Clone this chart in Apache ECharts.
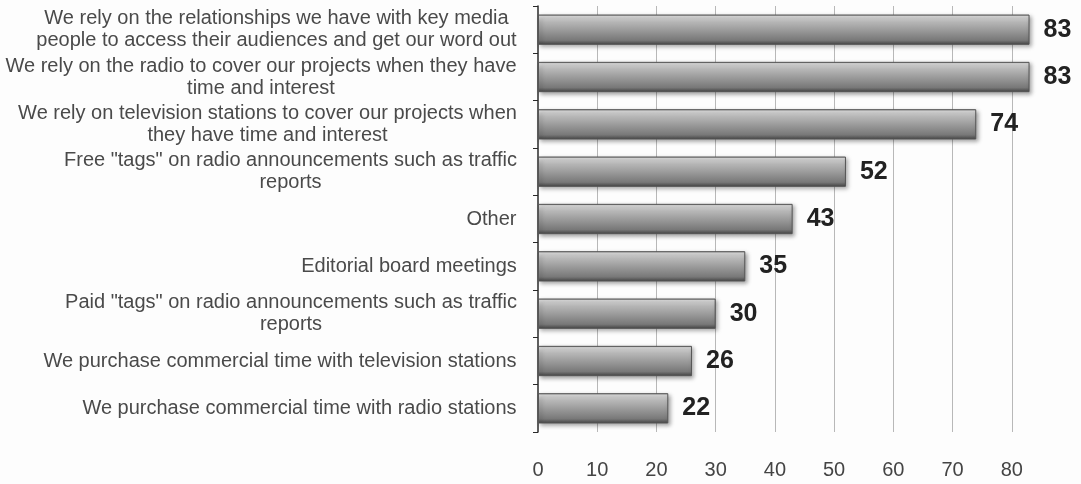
<!DOCTYPE html>
<html>
<head>
<meta charset="utf-8">
<script src="https://cdn.jsdelivr.net/npm/echarts@6/dist/echarts.min.js"></script>
<style>
  html, body { margin: 0; padding: 0; background: #fdfdfd; }
  #chart { width: 1081px; height: 484px; }
</style>
</head>
<body>
<div id="chart"></div>
<script>
// survey answers, top to bottom, line breaks as in the original
var categories = [
  'We rely on the relationships we have with key media\npeople to access their audiences and get our word out',
  'We rely on the radio to cover our projects when they have\ntime and interest',
  'We rely on television stations to cover our projects when\nthey have time and interest',
  'Free "tags" on radio announcements such as traffic\nreports',
  'Other',
  'Editorial board meetings',
  'Paid "tags" on radio announcements such as traffic\nreports',
  'We purchase commercial time with television stations',
  'We purchase commercial time with radio stations'
];
var values = [83, 83, 74, 52, 43, 35, 30, 26, 22];

var labelFont = '"Liberation Sans", Arial, sans-serif';
var labelSize = 20;

// each multi-line label is centred line by line, block right-aligned
var ctx = document.createElement('canvas').getContext('2d');
ctx.font = labelSize + 'px ' + labelFont;
var rich = {};
categories.forEach(function (c, i) {
  var w = 0;
  c.split('\n').forEach(function (l) {
    w = Math.max(w, ctx.measureText(l).width);
  });
  rich['r' + i] = {
    width: Math.ceil(w) + 2,
    align: 'center',
    fontSize: labelSize,
    fontFamily: labelFont,
    color: '#4a4a4a',
    lineHeight: 22
  };
});

var chart = echarts.init(document.getElementById('chart'));

chart.setOption({
  backgroundColor: '#fdfdfd',
  animation: false,
  grid: { left: 538, right: 10, top: 6, bottom: 52 },
  xAxis: {
    type: 'value',
    min: 0,
    max: 90,
    interval: 10,
    axisLine: { show: false },
    axisTick: { show: false },
    axisLabel: {
      showMaxLabel: false,
      margin: 28,
      fontSize: 20,
      fontFamily: labelFont,
      color: '#444'
    },
    splitLine: {
      show: true,
      showMinLine: false,
      showMaxLine: false,
      lineStyle: { color: '#b8b8b8', width: 1 }
    }
  },
  yAxis: {
    type: 'category',
    inverse: true,
    data: categories,
    axisLine: { show: true, lineStyle: { color: '#2a2a2a', width: 1.5 } },
    axisTick: { show: true, length: 5, lineStyle: { color: '#2a2a2a' } },
    axisLabel: {
      margin: 20,
      formatter: function (val, idx) {
        return val.split('\n').map(function (l) {
          return '{r' + idx + '|' + l + '}';
        }).join('\n');
      },
      rich: rich
    }
  },
  series: [{
    type: 'bar',
    data: values,
    barWidth: '64%',
    itemStyle: {
      color: new echarts.graphic.LinearGradient(0, 0, 0, 1, [
        { offset: 0, color: '#8a8a8a' },
        { offset: 0.06, color: '#dcdcdc' },
        { offset: 0.25, color: '#b6b6b6' },
        { offset: 0.55, color: '#979797' },
        { offset: 0.85, color: '#787878' },
        { offset: 1, color: '#444' }
      ]),
      borderColor: '#555',
      borderWidth: 1,
      shadowColor: 'rgba(0,0,0,0.35)',
      shadowBlur: 4,
      shadowOffsetX: 2,
      shadowOffsetY: 2
    },
    label: {
      show: true,
      position: 'right',
      distance: 14,
      fontSize: 25,
      fontWeight: 'bold',
      fontFamily: labelFont,
      color: '#222'
    }
  }]
});
</script>
</body>
</html>
